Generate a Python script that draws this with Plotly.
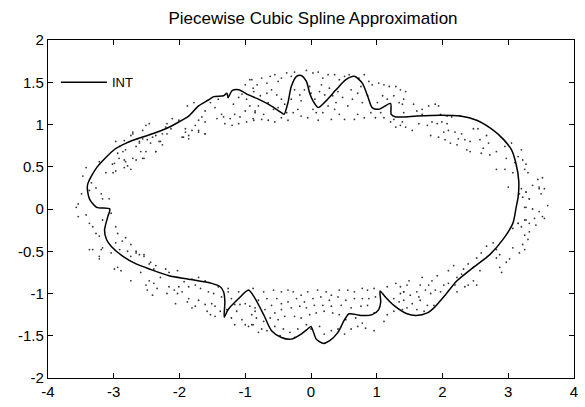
import plotly.graph_objects as go

# ---- tick labels ----
x_ticks = [-4, -3, -2, -1, 0, 1, 2, 3, 4]
x_ticktext = ["-4", "-3", "-2", "-1", "0", "1", "2", "3", "4"]
y_ticks = [-2, -1.5, -1, -0.5, 0, 0.5, 1, 1.5, 2]
y_ticktext = ["-2", "-1.5", "-1", "-0.5", "0", "0.5", "1", "1.5", "2"]

# ---- spline curve (INT) ----
curve_x = [-3.06, -3.26, -3.37, -3.40, -3.26, -2.98, -2.81, -2.61, -2.41, -2.21, -2.01, -1.86, -1.71, -1.56,
           -1.48, -1.33, -1.28, -1.26, -1.20, -1.10, -0.95, -0.80, -0.65, -0.45, -0.41, -0.35, -0.30, -0.22,
           -0.15, -0.07, -0.02, 0.03, 0.11, 0.23, 0.38, 0.53, 0.66, 0.78, 0.86, 0.93, 1.03, 1.21, 1.22, 1.29,
           1.41, 1.61, 1.97, 2.27, 2.52, 2.74, 2.92, 3.05, 3.12, 3.16, 3.15, 3.12, 3.07, 2.92, 2.72, 2.47,
           2.22, 2.04, 1.87, 1.77, 1.60, 1.46, 1.26, 1.13, 1.05, 1.06, 1.03, 0.93, 0.76, 0.58, 0.51, 0.41,
           0.28, 0.18, 0.08, 0.03, 0.00, -0.05, -0.15, -0.30, -0.45, -0.60, -0.72, -0.85, -0.95, -1.10,
           -1.26, -1.32, -1.31, -1.33, -1.38, -1.51, -1.86, -2.16, -2.46, -2.66, -2.86, -3.04, -3.11, -3.14,
           -3.09, -3.06]
curve_y = [0.00, 0.02, 0.12, 0.28, 0.49, 0.71, 0.78, 0.84, 0.89, 0.95, 1.03, 1.10, 1.22, 1.29,
           1.33, 1.34, 1.37, 1.32, 1.40, 1.41, 1.35, 1.30, 1.24, 1.14, 1.12, 1.26, 1.45, 1.57,
           1.58, 1.51, 1.37, 1.28, 1.20, 1.28, 1.41, 1.53, 1.57, 1.49, 1.34, 1.20, 1.18, 1.25, 1.12, 1.09,
           1.09, 1.10, 1.11, 1.10, 1.05, 0.95, 0.83, 0.70, 0.53, 0.33, 0.14, 0.02, -0.17, -0.36, -0.54, -0.69,
           -0.85, -1.02, -1.17, -1.23, -1.26, -1.24, -1.14, -1.04, -0.97, -1.10, -1.19, -1.25, -1.26, -1.24, -1.31, -1.46,
           -1.56, -1.59, -1.54, -1.44, -1.39, -1.42, -1.48, -1.54, -1.52, -1.44, -1.25, -1.06, -0.96, -1.06,
           -1.19, -1.28, -1.10, -0.98, -0.92, -0.88, -0.83, -0.79, -0.71, -0.65, -0.56, -0.44, -0.36, -0.25,
           -0.09, 0.00]

# ---- noisy sample points, by region of the ring ----
top_mid_x = [-0.90, -0.82, -0.75, -0.67, -0.62, -0.55, -0.50, -0.45, -0.37, -0.30, -0.25, -0.07, 0.03, 0.11, 0.18,
             0.26, 0.36, 0.43, 0.51, 0.58, 0.73, 0.81, 0.88, 0.93, 1.03, 1.11, 1.19, 1.29, 1.36, 1.44,
             -0.87, -0.77, -0.67, -0.60, -0.52, -0.45, -0.65, -0.80, -0.85, -0.72, -0.57, -0.50, -0.40,
             -0.25, -0.17, -0.15, -0.20, -0.27, -0.10, -0.02, 0.00, 0.06, 0.13, 0.21, 0.28, 0.33, 0.41, 0.48,
             0.26, 0.18, 0.36, 0.43, 0.56, 0.63, 0.71, 0.78, 0.86, 0.51, 0.31, 0.11, -0.05, -0.15, -0.35,
             -0.45, -0.55, -0.65, -0.75, -0.87, 0.71, 0.81, 0.91, 1.01, 1.09, 1.16, 1.26, 1.34, 1.41,
             1.06, 0.98, 1.11, 1.26, 1.36, 1.29, 1.21, 0.03, 0.66, 0.16, -0.30, -0.37, 0.08, 0.38, 0.76, 0.61]
top_mid_y = [1.53, 1.47, 1.55, 1.49, 1.57, 1.59, 1.51, 1.55, 1.61, 1.57, 1.62, 1.64, 1.61, 1.62, 1.55,
             1.59, 1.59, 1.53, 1.57, 1.59, 1.55, 1.59, 1.51, 1.47, 1.49, 1.47, 1.45, 1.45, 1.41, 1.39,
             1.39, 1.34, 1.37, 1.41, 1.35, 1.30, 1.26, 1.22, 1.14, 1.12, 1.18, 1.20, 1.24,
             1.41, 1.35, 1.28, 1.18, 1.14, 1.41, 1.45, 1.37, 1.30, 1.39, 1.35, 1.43, 1.34, 1.39, 1.32,
             1.22, 1.14, 1.18, 1.12, 1.22, 1.30, 1.37, 1.26, 1.34, 1.06, 1.06, 1.05, 1.08, 1.10, 1.05,
             1.08, 1.03, 1.05, 1.06, 1.05, 1.12, 1.08, 1.14, 1.26, 1.34, 1.30, 1.34, 1.26, 1.30,
             1.14, 1.08, 1.08, 1.06, 0.99, 0.97, 1.03, 1.18, 1.06, 1.47, 1.30, 1.14, 1.14, 1.26, 1.45, 1.41]

top_left_x = [-0.93, -0.88, -1.00, -1.05, -1.10, -0.98, -0.93, -0.85, -1.00, -1.08,
              -1.16, -1.23, -1.31, -1.20, -1.10, -0.98, -0.88, -1.36, -1.33, -1.43,
              -1.46, -1.53, -1.61, -1.66, -1.71, -1.61, -1.76, -1.81, -1.71, -1.61,
              -1.91, -1.96, -1.86, -1.78, -1.88, -2.01, -2.11, -2.19, -2.21, -2.13,
              -2.26, -2.29, -2.41, -2.46, -2.51, -2.56, -2.64, -2.61, -2.71, -2.74,
              -2.84, -2.91, -2.86, -2.94, -2.99, -2.84, -2.79, -2.71, -2.59, -2.54,
              -2.36, -2.49, -2.66, -3.01, -1.41, -1.26, -1.18]
top_left_y = [1.53, 1.43, 1.47, 1.36, 1.32, 1.30, 1.22, 1.16, 1.16, 1.09,
              1.12, 1.07, 1.01, 0.99, 1.01, 1.03, 1.07, 1.12, 1.09, 1.07,
              1.20, 1.26, 1.16, 1.09, 1.05, 1.03, 0.99, 0.93, 0.93, 0.89,
              0.95, 0.85, 0.83, 1.26, 1.22, 1.05, 1.07, 1.01, 0.97, 0.95,
              0.89, 0.80, 0.85, 1.01, 0.99, 0.93, 0.83, 0.80, 0.91, 0.87,
              0.81, 0.74, 0.68, 0.66, 0.54, 0.58, 0.51, 0.60, 0.68, 0.60,
              0.68, 0.82, 0.74, 0.43, 1.30, 1.32, 1.24]

left_x = [-2.71, -2.56, -2.36, -2.19, -1.94, -1.86, -1.71, -1.61, -1.91, -2.97,
          -2.61, -2.44, -2.31, -2.26, -2.82, -2.51, -2.36, -2.92, -2.82, -2.66,
          -2.56, -3.02, -2.84, -2.74, -2.97, -3.12, -3.22, -3.42, -3.47, -3.34,
          -3.49, -3.37, -3.27, -3.19, -3.07, -3.17, -3.54, -3.57, -3.42, -3.54,
          -3.37, -3.32, -3.27, -3.22, -3.17, -3.04, -2.97, -2.94, -2.87, -2.82,
          -2.74, -2.66, -2.61, -2.54, -2.44, -3.37, -3.22, -3.17, -2.97]
left_y = [0.89, 0.83, 0.87, 0.89, 0.85, 0.87, 0.91, 0.89, 0.91, 0.80,
          0.78, 0.78, 0.80, 0.76, 0.70, 0.68, 0.68, 0.60, 0.56, 0.58,
          0.60, 0.53, 0.49, 0.47, 0.45, 0.43, 0.56, 0.49, 0.39, 0.31,
          0.18, 0.22, 0.25, 0.18, 0.12, 0.12, 0.06, 0.02, -0.07, -0.09,
          -0.17, -0.21, -0.29, -0.32, -0.13, -0.05, -0.21, -0.29, -0.38, -0.34,
          -0.42, -0.50, -0.54, -0.54, -0.63, -0.48, -0.56, -0.46, -0.40]

bot_left_x = [-3.32, -3.19, -3.22, -3.04, -2.91, -2.79, -2.74, -2.66, -2.54, -2.99,
              -2.89, -2.94, -2.74, -2.59, -2.46, -2.36, -2.39, -2.21, -2.16, -2.03,
              -2.29, -2.46, -2.51, -2.39, -2.34, -2.49, -2.41, -2.19, -2.16, -2.08,
              -2.01, -1.93, -1.86, -2.03, -1.96, -1.86, -1.88, -1.71, -1.76, -1.81,
              -2.06, -1.61, -1.51, -1.46, -1.58, -1.53, -1.46, -1.76, -1.68, -1.56,
              -1.48, -1.61, -1.41, -1.81, -1.71, -1.26, -1.21, -1.16, -1.13, -1.21,
              -1.16, -1.05, -1.00, -0.95, -0.88, -1.08, -1.00, -0.93, -0.90, -0.85,
              -1.26, -1.36, -1.28, -1.38, -1.10]
bot_left_y = [-0.48, -0.48, -0.59, -0.52, -0.48, -0.50, -0.56, -0.52, -0.56, -0.71,
              -0.73, -0.69, -0.85, -0.75, -0.65, -0.67, -0.71, -0.71, -0.75, -0.73,
              -0.81, -0.85, -0.90, -0.88, -0.94, -0.96, -1.02, -1.00, -0.92, -0.96,
              -0.92, -0.86, -0.92, -1.00, -0.98, -1.06, -1.10, -1.08, -1.15, -1.17,
              -1.12, -1.13, -1.12, -1.15, -1.21, -1.25, -1.27, -0.90, -0.94, -0.98,
              -1.00, -0.85, -0.92, -0.83, -0.81, -0.94, -1.06, -1.13, -1.21, -1.29,
              -1.37, -1.31, -1.37, -1.39, -1.37, -1.13, -1.12, -1.15, -1.25, -1.21,
              -0.98, -1.04, -1.19, -1.21, -0.98]

bot_mid_x = [-0.88, -0.72, -0.57, -0.45, -0.35, -0.27, -0.15, -0.05, 0.10, 0.23, 0.31, 0.43, 0.56, 0.66, 0.78,
             0.86, 0.96, 1.16, 1.29, 1.36, 1.41, 1.26, 1.34, 1.39, 1.26, 1.16, 1.11, 0.96, 0.83, 0.96,
             -0.80, -0.67, -0.52, -0.60, -0.45, -0.35, -0.22, -0.10, 0.03, 0.15, 0.28, 0.41, 0.53, 0.66, 0.78, 0.88, 0.98,
             -0.85, -0.70, -0.55, -0.45, -0.30, -0.17, -0.07, 0.05, 0.18, 0.31, 0.46, 0.61, 0.76, 0.86,
             -0.90, -0.83, -0.72, -0.62, -0.50, -0.40, -0.25, -0.15, -0.02, 0.08, 0.20, 0.33, 0.43, 0.53, 0.68, 0.78,
             0.61, 0.51, 0.71,
             -0.80, -0.67, -0.55, -0.42, -0.32, -0.20, -0.07, 0.13, 0.20, 0.31, 0.41, -0.47, -0.25, -0.75, 0.00]
bot_mid_y = [-0.94, -0.98, -0.96, -0.98, -0.96, -0.98, -1.02, -0.98, -0.96, -0.98, -1.02, -0.96, -0.96, -0.98, -0.94,
             -0.96, -0.94, -0.92, -0.88, -0.92, -0.98, -1.06, -1.10, -1.19, -1.21, -1.25, -1.33, -1.44, -1.41, -1.23,
             -1.08, -1.06, -1.06, -1.14, -1.12, -1.10, -1.06, -1.10, -1.06, -1.04, -1.08, -1.04, -1.08, -1.06, -1.06, -1.06, -1.04,
             -1.17, -1.19, -1.23, -1.19, -1.17, -1.15, -1.17, -1.14, -1.14, -1.15, -1.14, -1.17, -1.15, -1.14,
             -1.37, -1.29, -1.33, -1.29, -1.31, -1.27, -1.27, -1.29, -1.25, -1.23, -1.21, -1.23, -1.25, -1.31, -1.29, -1.35,
             -1.42, -1.48, -1.39,
             -1.46, -1.44, -1.39, -1.42, -1.46, -1.42, -1.37, -1.39, -1.48, -1.44, -1.42, -1.50, -1.52, -1.42, -1.42]

bot_right_x = [3.20, 3.27, 3.47, 3.22, 3.32, 3.60, 3.27, 3.37, 3.47, 3.55,
               3.27, 3.20, 3.15, 3.07, 3.32, 3.25, 3.30, 3.22, 3.25, 3.17,
               3.07, 3.02, 2.97, 2.87, 2.82, 2.77, 2.67, 2.87, 2.90, 2.82,
               2.59, 2.52, 2.47, 2.57, 2.39, 2.32, 2.29, 2.22, 2.17, 2.09,
               2.09, 2.02, 1.92, 1.84, 1.79, 1.69, 1.66, 1.61, 1.49, 1.46,
               1.41, 1.36, 1.51, 1.64, 1.74, 1.82, 1.89, 1.97, 2.22, 2.19,
               2.34, 2.39, 2.52, 2.47, 1.41, 1.54, 1.66, 1.77, 1.87, 1.46,
               1.61, 1.72]
bot_right_y = [0.24, 0.20, 0.24, 0.14, 0.12, 0.04, 0.02, 0.00, -0.03, -0.11,
               -0.13, -0.21, -0.17, -0.23, -0.27, -0.31, -0.36, -0.42, -0.48, -0.52,
               -0.46, -0.59, -0.63, -0.54, -0.48, -0.40, -0.44, -0.69, -0.75, -0.58,
               -0.52, -0.58, -0.69, -0.73, -0.65, -0.71, -0.77, -0.81, -0.67, -0.73,
               -0.88, -0.90, -0.79, -0.85, -0.90, -0.81, -0.90, -0.98, -0.85, -0.90,
               -0.98, -1.00, -1.02, -1.04, -0.96, -1.00, -0.96, -0.98, -0.98, -0.90,
               -0.92, -0.90, -0.90, -0.85, -1.08, -1.12, -1.08, -1.14, -1.14, -1.17,
               -1.19, -1.21]

top_right_x = [1.39, 1.56, 1.69, 1.79, 1.89, 1.94, 1.41, 1.61, 1.69, 1.97,
               2.07, 2.14, 2.27, 1.39, 1.44, 1.54, 1.64, 1.77, 1.84, 1.92,
               1.99, 2.07, 1.82, 1.94, 2.04, 2.12, 2.02, 2.09, 2.19, 2.29,
               2.24, 2.34, 2.42, 2.22, 2.37, 2.42, 2.47, 2.54, 2.67, 2.70,
               2.62, 2.59, 2.72, 2.82, 2.57, 2.95, 3.05, 3.20, 3.15, 3.22,
               3.27, 3.25, 3.30, 2.97, 2.82, 2.95, 3.07, 3.10, 3.00, 3.37,
               3.45, 3.52, 3.47, 3.55, 3.50, 3.17, 3.27, 3.32, 3.25, 3.52,
               3.25, 3.15, 3.32, 3.42, 3.40]
top_right_y = [1.24, 1.24, 1.18, 1.22, 1.24, 1.22, 1.14, 1.16, 1.12, 1.12,
               1.10, 1.09, 1.10, 1.03, 0.97, 0.93, 1.01, 0.99, 1.03, 1.01,
               1.03, 1.01, 0.87, 0.85, 0.82, 0.78, 0.91, 0.93, 0.91, 0.89,
               0.83, 0.82, 0.80, 0.76, 0.70, 0.68, 0.95, 0.95, 0.87, 0.78,
               0.72, 0.66, 0.64, 0.68, 0.82, 0.74, 0.78, 0.70, 0.62, 0.58,
               0.53, 0.47, 0.43, 0.60, 0.47, 0.47, 0.43, 0.55, 0.26, 0.28,
               0.35, 0.37, 0.26, 0.24, 0.18, 0.18, 0.20, 0.12, 0.02, -0.09,
               -0.13, -0.17, -0.17, -0.19, -0.11]

dots_x = top_mid_x + top_left_x + left_x + bot_left_x + bot_mid_x + bot_right_x + top_right_x
dots_y = top_mid_y + top_left_y + left_y + bot_left_y + bot_mid_y + bot_right_y + top_right_y

FONT = "Liberation Sans, Arial, sans-serif"

fig = go.Figure()
fig.add_trace(go.Scatter(
    x=dots_x, y=dots_y, mode="markers", showlegend=False,
    marker=dict(size=1.8, color="#333333", line=dict(width=0)),
    hoverinfo="skip"))
fig.add_trace(go.Scatter(
    x=curve_x, y=curve_y, mode="lines", name="INT",
    line=dict(color="black", width=1.5, shape="spline", smoothing=0.7)))

axis_common = dict(
    showline=True, linecolor="black", linewidth=1.2, mirror="ticks",
    ticks="inside", ticklen=5, tickcolor="black", tickwidth=1,
    showgrid=False, zeroline=False,
    tickfont=dict(family=FONT, size=15, color="black"),
)
fig.update_xaxes(range=[-4, 4], tickvals=x_ticks, ticktext=x_ticktext, **axis_common)
fig.update_yaxes(range=[-2, 2], tickvals=y_ticks, ticktext=y_ticktext, **axis_common)

fig.update_layout(
    width=585, height=407,
    margin=dict(l=48, r=7, t=40, b=22),
    paper_bgcolor="white", plot_bgcolor="white",
    title=dict(text="Piecewise Cubic Spline Approximation", x=0.535, xanchor="center",
               y=0.955, yanchor="middle",
               font=dict(family=FONT, size=17, color="black")),
    legend=dict(x=0.015, y=0.875, xanchor="left", yanchor="middle",
                bgcolor="rgba(0,0,0,0)", borderwidth=0, itemwidth=46,
                font=dict(family=FONT, size=13, color="black")),
    showlegend=True,
)

fig.write_html("out.html")
